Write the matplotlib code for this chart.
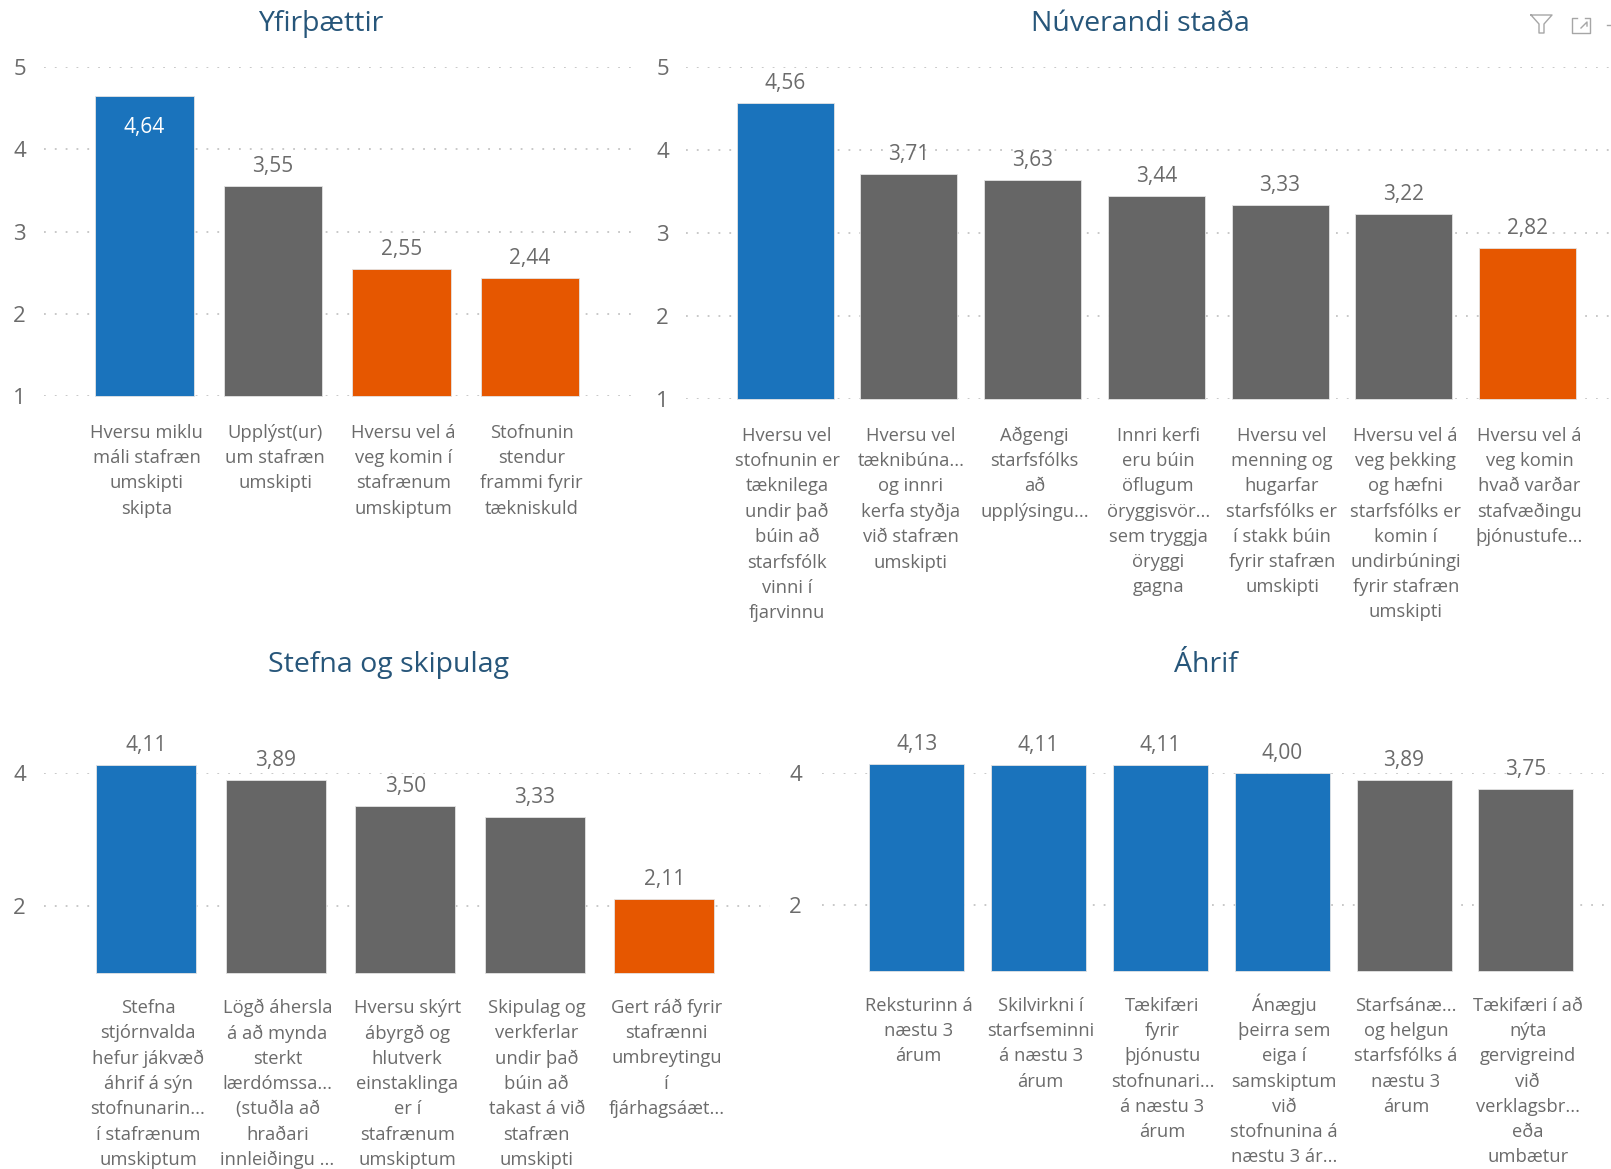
import matplotlib
matplotlib.use("Agg")
import matplotlib.pyplot as plt
from matplotlib.transforms import ScaledTranslation
from matplotlib.lines import Line2D

W, H = 1611, 1169
DPI = 100
plt.rcParams["font.family"] = ["Open Sans", "DejaVu Sans"]

BLUE = "#1a73bc"
GREY = "#666666"
ORANGE = "#e65700"
TEXT = "#6b6b6b"
TITLE = "#27567a"
GRID = "#c4c4c4"

# Yfirþættir
yfir_labels = ["Hversu miklu\nmáli stafræn\numskipti\nskipta",
               "Upplýst(ur)\num stafræn\numskipti",
               "Hversu vel á\nveg komin í\nstafrænum\numskiptum",
               "Stofnunin\nstendur\nframmi fyrir\ntækniskuld"]
yfir_values = [4.64, 3.55, 2.55, 2.44]
yfir_colors = [BLUE, GREY, ORANGE, ORANGE]

# Núverandi staða
nuv_labels = ["Hversu vel\nstofnunin er\ntæknilega\nundir það\nbúin að\nstarfsfólk\nvinni í\nfjarvinnu",
              "Hversu vel\ntæknibúna...\nog innri\nkerfa styðja\nvið stafræn\numskipti",
              "Aðgengi\nstarfsfólks\nað\nupplýsingu...",
              "Innri kerfi\neru búin\nöflugum\nöryggisvör...\nsem tryggja\nöryggi\ngagna",
              "Hversu vel\nmenning og\nhugarfar\nstarfsfólks er\ní stakk búin\nfyrir stafræn\numskipti",
              "Hversu vel á\nveg þekking\nog hæfni\nstarfsfólks er\nkomin í\nundirbúningi\nfyrir stafræn\numskipti",
              "Hversu vel á\nveg komin\nhvað varðar\nstafvæðingu\nþjónustufe..."]
nuv_values = [4.56, 3.71, 3.63, 3.44, 3.33, 3.22, 2.82]
nuv_colors = [BLUE, GREY, GREY, GREY, GREY, GREY, ORANGE]

# Stefna og skipulag
stefna_labels = ["Stefna\nstjórnvalda\nhefur jákvæð\náhrif á sýn\nstofnunarin...\ní stafrænum\numskiptum",
                 "Lögð áhersla\ná að mynda\nsterkt\nlærdómssa...\n(stuðla að\nhraðari\ninnleiðingu ...",
                 "Hversu skýrt\nábyrgð og\nhlutverk\neinstaklinga\ner í\nstafrænum\numskiptum",
                 "Skipulag og\nverkferlar\nundir það\nbúin að\ntakast á við\nstafræn\numskipti",
                 "Gert ráð fyrir\nstafrænni\numbreytingu\ní\nfjárhagsáæt..."]
stefna_values = [4.11, 3.89, 3.50, 3.33, 2.11]
stefna_colors = [BLUE, GREY, GREY, GREY, ORANGE]

# Áhrif
ahrif_labels = ["Reksturinn á\nnæstu 3\nárum",
                "Skilvirkni í\nstarfseminni\ná næstu 3\nárum",
                "Tækifæri\nfyrir\nþjónustu\nstofnunari...\ná næstu 3\nárum",
                "Ánægju\nþeirra sem\neiga í\nsamskiptum\nvið\nstofnunina á\nnæstu 3 ár...",
                "Starfsánæ...\nog helgun\nstarfsfólks á\nnæstu 3\nárum",
                "Tækifæri í að\nnýta\ngervigreind\nvið\nverklagsbr...\neða\numbætur"]
ahrif_values = [4.13, 4.11, 4.11, 4.00, 3.89, 3.75]
ahrif_colors = [BLUE, BLUE, BLUE, BLUE, GREY, GREY]

LABEL_SIZE = 13.2
VALUE_SIZE = 15
TICK_SIZE = 16
TITLE_SIZE = 20.5
LINE_SP = 1.515

fig = plt.figure(figsize=(W / DPI, H / DPI), dpi=DPI, facecolor="white")
renderer = fig.canvas.get_renderer()


def first_line_ascent(text_obj):
    """Pixels from the top of a wrapped label to the baseline of its first line."""
    prop = text_obj.get_fontproperties()
    first = text_obj.get_text().split("\n")[0]
    _, h, d = renderer.get_text_width_height_descent(first, prop, False)
    _, h_lp, d_lp = renderer.get_text_width_height_descent("lp", prop, False)
    return max(h, h_lp) - max(d, d_lp)


def panel(title, title_xy, labels, values, colors, ticks, left, right,
          y_top, v_top, y_base, first_center, step, bar_w, baseline_y, tick_right,
          inside=()):
    """One bar visual laid out in pixel coordinates (y measured from the top)."""
    ax = fig.add_axes([left / W, 1 - y_base / H, (right - left) / W, (y_base - y_top) / H])
    ax.set_ylim(1, v_top)
    ax.set_xlim((left - first_center) / step, (right - first_center) / step)
    ax.patch.set_alpha(0)
    for s in ax.spines.values():
        s.set_visible(False)

    xs = list(range(len(values)))
    bars = ax.bar(xs, [v - 1 for v in values], bottom=1, width=bar_w / step, color=colors,
                  edgecolor="#e4e4e4", linewidth=0.6, zorder=3)
    for b in bars:
        b.set_clip_on(False)

    ax.set_yticks(ticks)
    ax.set_yticklabels([str(t) for t in ticks], fontsize=TICK_SIZE, color=TEXT)
    ax.yaxis.grid(True, color=GRID, linestyle=(0, (1, 5)), linewidth=1.3, zorder=1)
    ax.set_axisbelow(True)
    ax.tick_params(axis="y", length=0, pad=(left - tick_right) * 72 / DPI)

    # Category labels share the baseline of their first line, whatever its accents
    ax.set_xticks(xs)
    ax.set_xticklabels(labels, fontsize=LABEL_SIZE, color=TEXT, linespacing=LINE_SP)
    ax.tick_params(axis="x", length=0, pad=(baseline_y - y_base) * 72 / DPI)
    for lab in ax.get_xticklabels():
        shift = ScaledTranslation(2 / DPI, first_line_ascent(lab) / DPI, fig.dpi_scale_trans)
        lab.set_transform(lab.get_transform() + shift)

    for i, v in enumerate(values):
        txt = f"{v:.2f}".replace(".", ",")
        if i in inside:
            ax.annotate(txt, (i, v), xytext=(0, -31 * 72 / DPI), textcoords="offset points",
                        ha="center", va="center", fontsize=VALUE_SIZE, color="white",
                        zorder=4, annotation_clip=False)
        else:
            ax.annotate(txt, (i, v), xytext=(0, 19.5 * 72 / DPI), textcoords="offset points",
                        ha="center", va="center", fontsize=VALUE_SIZE, color=TEXT,
                        zorder=4, annotation_clip=False)

    fig.text(title_xy[0] / W, 1 - title_xy[1] / H, title, ha="center", va="center",
             fontsize=TITLE_SIZE, color=TITLE)


panel("Yfirþættir", (321, 24), yfir_labels, yfir_values, yfir_colors, [1, 2, 3, 4, 5],
      44, 636, 66.8, 5, 396.3, 144.6, 128.4, 98.5, 438, 26, inside=(0,))
panel("Núverandi staða", (1140, 24), nuv_labels, nuv_values, nuv_colors, [1, 2, 3, 4, 5],
      686, 1611, 66.8, 5, 398.6, 785.2, 123.7, 97, 441, 669)
panel("Stefna og skipulag", (389, 665), stefna_labels, stefna_values, stefna_colors, [2, 4],
      44, 770, 772.6, 4, 973, 146, 129.6, 100, 1013, 26)
panel("Áhrif", (1206, 665), ahrif_labels, ahrif_values, ahrif_colors, [2, 4],
      822, 1611, 772.6, 4, 971, 916.8, 121.8, 95, 1011, 802)

# Visual header icons in the top right corner
overlay = fig.add_axes([0, 0, 1, 1], zorder=10)
overlay.set_xlim(0, W)
overlay.set_ylim(H, 0)
overlay.axis("off")
overlay.patch.set_alpha(0)
icon = "#a6a6a6"
overlay.add_line(Line2D([1531, 1552, 1544, 1544, 1539, 1539, 1531],
                        [15, 15, 24, 33, 33, 24, 15], color=icon, lw=1))
overlay.add_line(Line2D([1577, 1572, 1572, 1590, 1590, 1585],
                        [18, 18, 33, 33, 18, 18], color=icon, lw=1))
overlay.add_line(Line2D([1581, 1587, 1587], [28, 22, 26], color=icon, lw=1))
overlay.add_line(Line2D([1607, 1611], [25, 25], color=icon, lw=1))

fig.savefig("out.png", dpi=DPI)
